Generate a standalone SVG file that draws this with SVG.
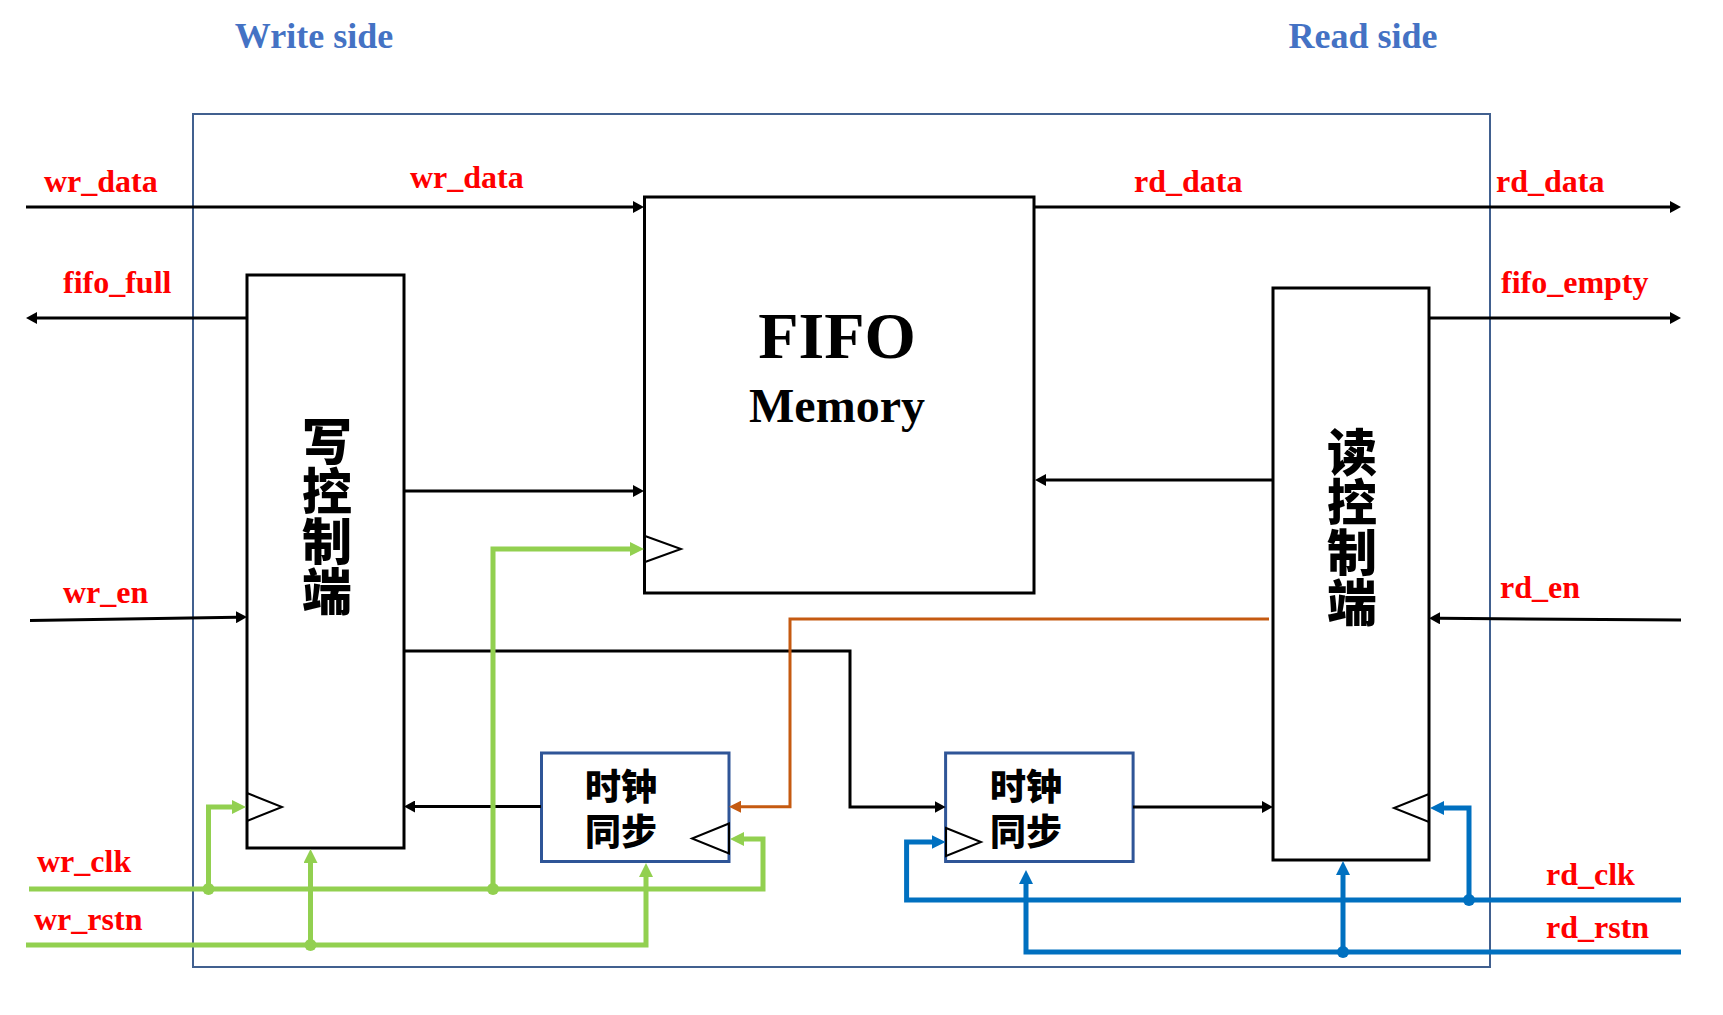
<svg xmlns="http://www.w3.org/2000/svg" width="1723" height="1015" viewBox="0 0 1723 1015">
<style>
.lbl{font-family:"Liberation Serif","Times New Roman",serif;font-weight:bold;font-size:32px;fill:#FF0000}
.side{font-family:"Liberation Serif","Times New Roman",serif;font-weight:bold;font-size:36px;fill:#4472C4;text-anchor:middle}
.big{font-family:"Liberation Serif","Times New Roman",serif;font-weight:bold;fill:#000;text-anchor:middle}
.cjk{font-family:"Noto Sans CJK SC","Noto Sans",sans-serif;font-weight:900;fill:#000}
.vert{writing-mode:vertical-rl;font-size:50px}
.box{fill:#fff;stroke:#000;stroke-width:3}
.sync{fill:#fff;stroke:#2F5597;stroke-width:3}
.clk{fill:none;stroke:#000;stroke-width:2}
.blk{fill:none;stroke:#000;stroke-width:3}
.org{fill:none;stroke:#C55A11;stroke-width:3}
.grn{fill:none;stroke:#92D050;stroke-width:5}
.blu{fill:none;stroke:#0070C0;stroke-width:5}
</style>
<defs>
<marker id="aB" markerUnits="userSpaceOnUse" markerWidth="11" markerHeight="12" viewBox="0 0 11 12" refX="1" refY="6" orient="auto"><path d="M0,0L11,6L0,12z" fill="#000"/></marker>
<marker id="aO" markerUnits="userSpaceOnUse" markerWidth="12" markerHeight="12" viewBox="0 0 12 12" refX="1" refY="6" orient="auto"><path d="M0,0L12,6L0,12z" fill="#C55A11"/></marker>
<marker id="aG" markerUnits="userSpaceOnUse" markerWidth="14" markerHeight="14" viewBox="0 0 14 14" refX="1" refY="7" orient="auto"><path d="M0,0L14,7L0,14z" fill="#92D050"/></marker>
<marker id="aU" markerUnits="userSpaceOnUse" markerWidth="14" markerHeight="14" viewBox="0 0 14 14" refX="1" refY="7" orient="auto"><path d="M0,0L14,7L0,14z" fill="#0070C0"/></marker>
</defs>
<rect width="1723" height="1015" fill="#fff"/>

<g id="frame">
<rect x="193" y="114" width="1297" height="853" fill="none" stroke="#41608F" stroke-width="2"/>
</g>

<text class="side" x="314" y="48">Write side</text>
<text class="side" x="1363" y="48">Read side</text>

<g id="fifo_memory">
<rect class="box" x="644.5" y="197" width="389.5" height="396"/>
<text class="big" x="837" y="358" font-size="66">FIFO</text>
<text class="big" x="837" y="422" font-size="48">Memory</text>
<polygon class="clk" points="645,536 681,549 645,562"/>
</g>

<g id="write_ctrl">
<rect class="box" x="247" y="275" width="157" height="573"/>
<text class="cjk vert" x="327" y="416">写控制端</text>
<polygon class="clk" points="247,793 282,807 247,821"/>
</g>

<g id="read_ctrl">
<rect class="box" x="1273" y="288" width="156" height="572"/>
<text class="cjk vert" x="1352" y="427">读控制端</text>
<polygon class="clk" points="1429,794 1394,808 1429,822"/>
</g>

<g id="sync_write">
<rect class="sync" x="541.5" y="753" width="187.5" height="108.5"/>
<text class="cjk" font-size="36"><tspan x="585" y="800">时钟</tspan><tspan x="585" y="845">同步</tspan></text>
<polygon class="clk" points="729,823.5 692,838.5 729,853.5"/>
</g>

<g id="sync_read">
<rect class="sync" x="945.6" y="753" width="187.5" height="108.5"/>
<text class="cjk" font-size="36"><tspan x="990" y="800">时钟</tspan><tspan x="990" y="845">同步</tspan></text>
<polygon class="clk" points="946,828 981,842 946,856"/>
</g>

<g id="connectors">
<path class="blk" d="M26,207H634" marker-end="url(#aB)"/>
<path class="blk" d="M247,318H36" marker-end="url(#aB)"/>
<path class="blk" d="M1034,207H1671" marker-end="url(#aB)"/>
<path class="blk" d="M1429,318H1671" marker-end="url(#aB)"/>
<path class="blk" d="M404,491H634" marker-end="url(#aB)"/>
<path class="blk" d="M1273,480H1045" marker-end="url(#aB)"/>
<path class="blk" d="M30,620.5L237,617.2" marker-end="url(#aB)"/>
<path class="blk" d="M1681,620L1439,618.3" marker-end="url(#aB)"/>
<path class="blk" d="M404,651H850V807H935.6" marker-end="url(#aB)"/>
<path class="blk" d="M1133,807H1263" marker-end="url(#aB)"/>
<path class="blk" d="M541,806.5H414" marker-end="url(#aB)"/>
<path class="org" d="M1269,619H790V806.7H740" marker-end="url(#aO)"/>

<path class="grn" d="M29,889H763V839H743" marker-end="url(#aG)"/>
<path class="grn" d="M208.5,889V807H233" marker-end="url(#aG)"/>
<path class="grn" d="M493,889V549H631" marker-end="url(#aG)"/>
<path class="grn" d="M26,945H646V876" marker-end="url(#aG)"/>
<path class="grn" d="M310.5,945V862" marker-end="url(#aG)"/>
<circle cx="208.5" cy="889" r="6" fill="#92D050"/>
<circle cx="493" cy="889" r="6" fill="#92D050"/>
<circle cx="310.5" cy="945" r="6" fill="#92D050"/>

<path class="blu" d="M1681,900H906.6V842H932.6" marker-end="url(#aU)"/>
<path class="blu" d="M1469,900V808H1443" marker-end="url(#aU)"/>
<path class="blu" d="M1681,952H1026V883" marker-end="url(#aU)"/>
<path class="blu" d="M1343,952V874" marker-end="url(#aU)"/>
<circle cx="1469" cy="900" r="6" fill="#0070C0"/>
<circle cx="1343" cy="952" r="6" fill="#0070C0"/>
</g>

<g id="labels">
<text class="lbl" x="44" y="192">wr_data</text>
<text class="lbl" x="410" y="188">wr_data</text>
<text class="lbl" x="1134" y="192">rd_data</text>
<text class="lbl" x="1496" y="192">rd_data</text>
<text class="lbl" x="63" y="293">fifo_full</text>
<text class="lbl" x="1501" y="293">fifo_empty</text>
<text class="lbl" x="63" y="603">wr_en</text>
<text class="lbl" x="1500" y="598">rd_en</text>
<text class="lbl" x="37" y="872">wr_clk</text>
<text class="lbl" x="34" y="930">wr_rstn</text>
<text class="lbl" x="1546" y="885">rd_clk</text>
<text class="lbl" x="1546" y="938">rd_rstn</text>
</g>
</svg>
